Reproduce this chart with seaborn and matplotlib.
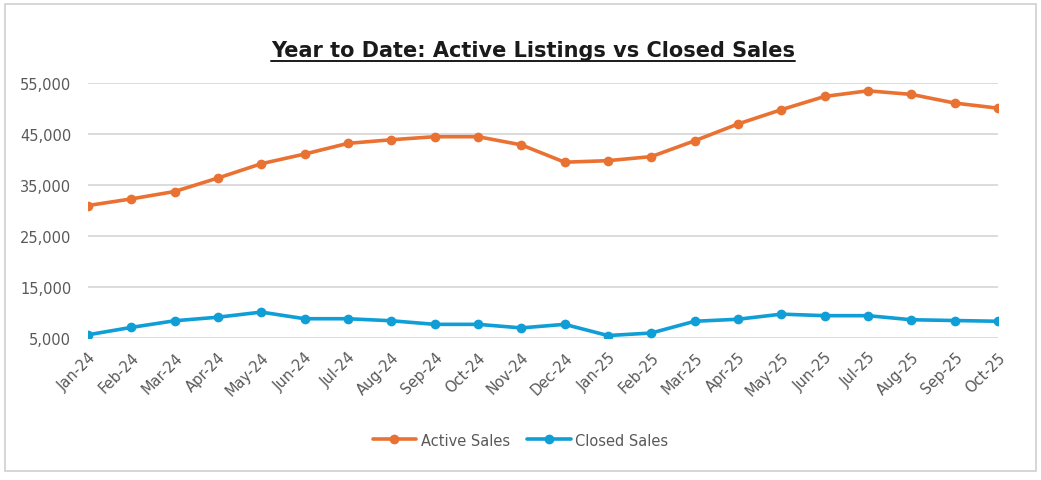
import pandas as pd
import seaborn as sns
import matplotlib.pyplot as plt
from matplotlib.patches import Rectangle
from matplotlib.lines import Line2D

months = ['Jan-24', 'Feb-24', 'Mar-24', 'Apr-24', 'May-24', 'Jun-24', 'Jul-24',
          'Aug-24', 'Sep-24', 'Oct-24', 'Nov-24', 'Dec-24', 'Jan-25', 'Feb-25',
          'Mar-25', 'Apr-25', 'May-25', 'Jun-25', 'Jul-25', 'Aug-25', 'Sep-25', 'Oct-25']

active_sales = [31000, 32300, 33750, 36400, 39200, 41100, 43200, 43900, 44500, 44500,
                42900, 39500, 39800, 40600, 43700, 47000, 49800, 52400, 53500, 52800,
                51100, 50100]

closed_sales = [5650, 7100, 8400, 9100, 10100, 8800, 8800, 8400, 7700, 7700,
                7000, 7700, 5500, 6000, 8300, 8700, 9700, 9400, 9400, 8600,
                8450, 8300]

yticks = [5000, 15000, 25000, 35000, 45000, 55000]

df = pd.DataFrame({'Month': months * 2,
                   'Value': active_sales + closed_sales,
                   'Series': ['Active Sales'] * len(months) + ['Closed Sales'] * len(months)})

sns.set_style('white')
plt.rcParams['font.family'] = ['DejaVu Sans']

fig = plt.figure(figsize=(10.41, 4.81), dpi=100)
ax = fig.add_axes([0.0845, 0.295, 0.8742, 0.530])

palette = {'Active Sales': '#E97132', 'Closed Sales': '#0F9ED5'}
sns.lineplot(data=df, x='Month', y='Value', hue='Series', palette=palette,
             marker='o', markersize=7, markeredgewidth=0, linewidth=2.6,
             sort=False, ax=ax, legend=False)

ax.set_xlim(0, len(months) - 1)
ax.set_ylim(5000, 55000)
ax.set_yticks(yticks)
ax.set_yticklabels([f'{v:,}' for v in yticks])
ax.set_xticks(range(len(months)))
ax.set_xticklabels(months, rotation=45, ha='right', rotation_mode='anchor')
ax.tick_params(axis='both', colors='#595959', labelsize=10.5, length=0)
ax.tick_params(axis='x', pad=8)
ax.tick_params(axis='y', pad=12)
ax.yaxis.grid(True, color='#d9d9d9', linewidth=1.3)
ax.set_xlabel('')
ax.set_ylabel('')
for s in ax.spines.values():
    s.set_visible(False)
ax.set_axisbelow(True)

# title with underline
title = fig.text(0.512, 0.895, 'Year to Date: Active Listings vs Closed Sales',
                 ha='center', va='center', fontsize=15, fontweight='bold', color='#1a1a1a')
fig.canvas.draw()
bb = title.get_window_extent().transformed(fig.transFigure.inverted())
fig.add_artist(Line2D([bb.x0, bb.x1], [bb.y0 - 0.004, bb.y0 - 0.004],
                      color='#1a1a1a', linewidth=1.4, transform=fig.transFigure))

# legend
handles = [Line2D([], [], color=palette[k], marker='o', markersize=7, linewidth=2.6,
                  markeredgewidth=0) for k in palette]
fig.legend(handles, list(palette.keys()), loc='center', bbox_to_anchor=(0.5, 0.083),
           ncol=2, frameon=False, fontsize=10.5, labelcolor='#595959',
           handlelength=3, columnspacing=1.2, handletextpad=0.3)

# outer chart border
fig.add_artist(Rectangle((0.005, 0.018), 0.99, 0.972, transform=fig.transFigure,
                         fill=False, edgecolor='#d0d0d0', linewidth=1.2))

fig.savefig('out.png', dpi=100, facecolor='white')
